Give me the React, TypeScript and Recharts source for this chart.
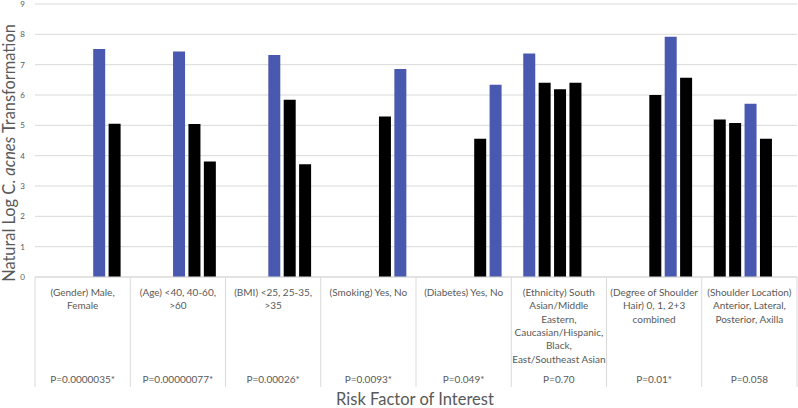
import { BarChart, Bar, XAxis, YAxis, CartesianGrid, Cell } from "recharts";

const categories = [
  ["(Gender) Male,", "Female"],
  ["(Age) <40, 40-60,", ">60"],
  ["(BMI) <25, 25-35,", ">35"],
  ["(Smoking) Yes, No"],
  ["(Diabetes) Yes, No"],
  ["(Ethnicity) South", "Asian/Middle", "Eastern,", "Caucasian/Hispanic,", "Black,", "East/Southeast Asian"],
  ["(Degree of Shoulder", "Hair) 0, 1, 2+3", "combined"],
  ["(Shoulder Location)", "Anterior, Lateral,", "Posterior, Axilla"],
];
const pValues = ["P=0.0000035*", "P=0.00000077*", "P=0.00026*", "P=0.0093*", "P=0.049*", "P=0.70", "P=0.01*", "P=0.058"];

// five bar slots per category, null where a category has no bar in that slot
const slot0 = [null, null, null, null, null, 7.37, null, 5.19];
const slot1 = [null, null, null, null, null, 6.4, null, 5.08];
const slot2 = [null, 7.43, 7.32, null, null, 6.19, 6.0, 5.71];
const slot3 = [7.52, 5.04, 5.84, 5.29, 4.56, 6.4, 7.92, 4.56];
const slot4 = [5.05, 3.81, 3.72, 6.86, 6.34, null, 6.57, null];
// which slot is the reference (blue) bar in each category
const blueSlot = [3, 2, 2, 4, 4, 0, 3, 2];
const yTicks = [0, 1, 2, 3, 4, 5, 6, 7, 8, 9];

const slots = [slot0, slot1, slot2, slot3, slot4];
const data = categories.map((c, i) => ({
  name: c.join(" "),
  s0: slot0[i],
  s1: slot1[i],
  s2: slot2[i],
  s3: slot3[i],
  s4: slot4[i],
}));

const BLUE = "#4959b0";
const GRID = "#d9d9d9";
const TEXT = "#595959";
const FONT = "Lato, 'Open Sans', sans-serif";

const W = 798;
const H = 408;
const LEFT = 35;
const RIGHT = 1;
const BAND = (W - LEFT - RIGHT) / categories.length;

const CategoryTick = (props: any) => {
  const { x, y, index } = props;
  const lines = categories[index];
  const left = x - BAND / 2;
  return (
    <g>
      <line x1={left} x2={left} y1={y} y2={y + 110} stroke={GRID} />
      {index === categories.length - 1 && (
        <line x1={left + BAND} x2={left + BAND} y1={y} y2={y + 110} stroke={GRID} />
      )}
      <text textAnchor="middle" fill={TEXT} fontSize={10} fontFamily={FONT}>
        {lines.map((l, k) => (
          <tspan key={k} x={x} y={y + 19 + k * 13.3}>
            {l}
          </tspan>
        ))}
      </text>
      <text x={x} y={y + 106} textAnchor="middle" fill={TEXT} fontSize={10} fontFamily={FONT}>
        {pValues[index]}
      </text>
    </g>
  );
};

export default function App() {
  return (
    <div style={{ position: "absolute", left: 0, top: 0, width: W, height: H, background: "#fff" }}>
      <BarChart
        width={W}
        height={H}
        data={data}
        margin={{ top: 4, right: RIGHT, left: 0, bottom: 0 }}
        barCategoryGap="12.6%"
        barGap={3.4}
      >
        <CartesianGrid vertical={false} stroke={GRID} />
        <XAxis
          dataKey="name"
          height={131}
          interval={0}
          tickLine={false}
          tickSize={0}
          tickMargin={0}
          axisLine={{ stroke: GRID }}
          tick={<CategoryTick />}
        />
        <YAxis
          width={LEFT}
          domain={[0, 9]}
          ticks={yTicks}
          axisLine={false}
          tickLine={false}
          tickMargin={4}
          tick={{ fontSize: 8, fill: TEXT, fontFamily: FONT }}
        />
        {slots.map((s, si) => (
          <Bar key={si} dataKey={`s${si}`} isAnimationActive={false}>
            {data.map((_, ci) => (
              <Cell key={ci} fill={blueSlot[ci] === si ? BLUE : "#000000"} />
            ))}
          </Bar>
        ))}
      </BarChart>
      <svg width={W} height={H} style={{ position: "absolute", left: 0, top: 0, pointerEvents: "none" }}>
        <text
          x={0}
          y={0}
          transform="translate(14.5,153) rotate(-90)"
          textAnchor="middle"
          fill={TEXT}
          fontSize={16.4}
          fontFamily={FONT}
        >
          Natural Log C. <tspan fontStyle="italic">acnes</tspan> Transformation
        </text>
        <text x={415} y={405} textAnchor="middle" fill={TEXT} fontSize={16.5} fontFamily={FONT}>
          Risk Factor of Interest
        </text>
      </svg>
    </div>
  );
}
